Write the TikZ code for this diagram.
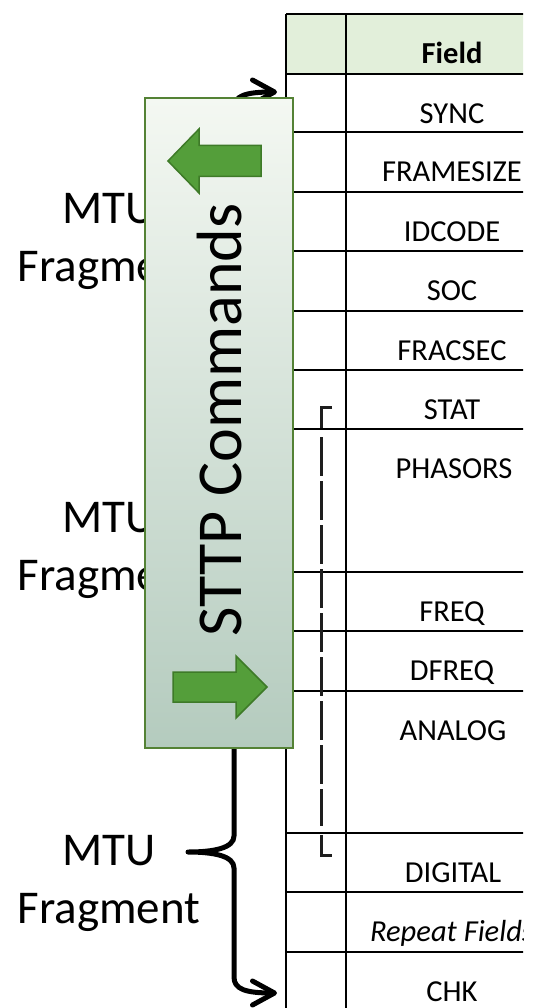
\documentclass[tikz,border=0pt]{standalone}
\usepackage{fontspec}
\setmainfont{Carlito}
\usetikzlibrary{arrows.meta}
\definecolor{hdrgreen}{RGB}{226,239,218}
\definecolor{boxedge}{RGB}{84,130,53}
\definecolor{boxtop}{RGB}{244,248,242}
\definecolor{boxbot}{RGB}{180,203,190}
\definecolor{arrfill}{RGB}{84,158,58}
\definecolor{arredge}{RGB}{62,122,40}
\definecolor{dashgray}{RGB}{30,30,30}
\begin{document}
\begin{tikzpicture}[x=1pt,y=-1pt,
  tline/.style={line width=1.6pt,black},
  celltext/.style={font=\fontsize{30.5}{36}\selectfont, anchor=base, inner sep=0pt},
  fraglabel/.style={font=\fontsize{47}{58.5}\selectfont, align=center, anchor=north, inner sep=0pt},
  brace/.style={line width=5pt, black, line cap=round, line join=round,
    {Straight Barb[length=22pt,width=24pt,round]}-{Straight Barb[length=22pt,width=24pt,round]}},
  cmdbox/.style={draw=boxedge, line width=2pt, top color=boxtop, bottom color=boxbot,
    minimum width=148pt, minimum height=650pt, inner sep=0pt, anchor=north west},
  bigarrow/.style={fill=arrfill, draw=arredge, line width=1.5pt, line join=miter},
  dline/.style={line width=3pt, dashgray},
]
\useasboundingbox (0,0) rectangle (538,1008);
% table
\begin{scope}
\clip (0,0) rectangle (523,1008);
\fill[hdrgreen] (286,14) rectangle (560,74);
\foreach \y in {14,74,132,192,251,311,370,429,572,631,691,833,892,952}
  \draw[tline] (286,\y) -- (560,\y);
\draw[tline] (286,14) -- (286,1012);
\draw[tline] (346,14) -- (346,1012);
\node[celltext, font=\fontsize{30.5}{36}\selectfont\bfseries] (fField) at (452,63.5) {Field};
\node[celltext] (fSync) at (452,123.5) {SYNC};
\node[celltext] (fFrame) at (452,181.5) {FRAMESIZE};
\node[celltext] (fId) at (452,241.5) {IDCODE};
\node[celltext] (fSoc) at (452,300.5) {SOC};
\node[celltext] (fFrac) at (452,360.5) {FRACSEC};
\node[celltext] (fStat) at (452,419.5) {STAT};
\node[celltext] (fPhas) at (454,478.5) {PHASORS};
\node[celltext] (fFreq) at (452,621.5) {FREQ};
\node[celltext] (fDfreq) at (452,680.5) {DFREQ};
\node[celltext] (fAnalog) at (453,740.5) {ANALOG};
\node[celltext] (fDigital) at (453,882.5) {DIGITAL};
\node[celltext] (fRepeat) at (452,941.5) {\itshape Repeat Fields};
\node[celltext] (fChk) at (452,1001.5) {CHK};
\end{scope}
% dashed bracket
\draw[dline] (332,407) -- (321,407) -- (321,428);
\draw[dline, dash pattern=on 39pt off 5pt] (321,437) -- (321,826);
\draw[dline] (321,835) -- (321,855) -- (332,855);
% labels
\node[fraglabel] (lab1) at (109,193) {MTU\\Fragment};
\node[fraglabel] (lab2) at (109,502) {MTU\\Fragment};
\node[fraglabel] (lab3) at (109,835) {MTU\\Fragment};
% braces
\coordinate (b1t) at (277,92);  \coordinate (b1b) at (277,328);
\coordinate (b2t) at (277,378); \coordinate (b2b) at (277,660);
\coordinate (b3t) at (277,711); \coordinate (b3b) at (277,993);
\draw[brace] (b1t) .. controls (245,92) and (234,96) .. (234,108) -- (234,194)
  .. controls (234,206) and (214,210) .. (188,210) .. controls (214,210) and (234,214) .. (234,226)
  -- (234,312) .. controls (234,324) and (245,328) .. (b1b);
\draw[brace] (b2t) .. controls (245,378) and (234,382) .. (234,394) -- (234,503)
  .. controls (234,515) and (214,519) .. (188,519) .. controls (214,519) and (234,523) .. (234,535)
  -- (234,644) .. controls (234,656) and (245,660) .. (b2b);
\draw[brace] (b3t) .. controls (245,711) and (234,715) .. (234,727) -- (234,836)
  .. controls (234,848) and (214,852) .. (188,852) .. controls (214,852) and (234,856) .. (234,868)
  -- (234,977) .. controls (234,989) and (245,993) .. (b3b);
% STTP box
\node[cmdbox] (cmd) at (144,97) {};
\node[rotate=90, anchor=base, inner sep=0pt, font=\fontsize{64}{76}\selectfont] (cmdtext) at (241,420) {STTP Commands};
\draw[bigarrow] (168,161) -- (199,129) -- (199,145.5) -- (261,145.5) -- (261,176.5) -- (199,176.5) -- (199,193) -- cycle;
\draw[bigarrow] (267,687) -- (236,656) -- (236,672) -- (173,672) -- (173,702) -- (236,702) -- (236,718) -- cycle;
\end{tikzpicture}
\end{document}
